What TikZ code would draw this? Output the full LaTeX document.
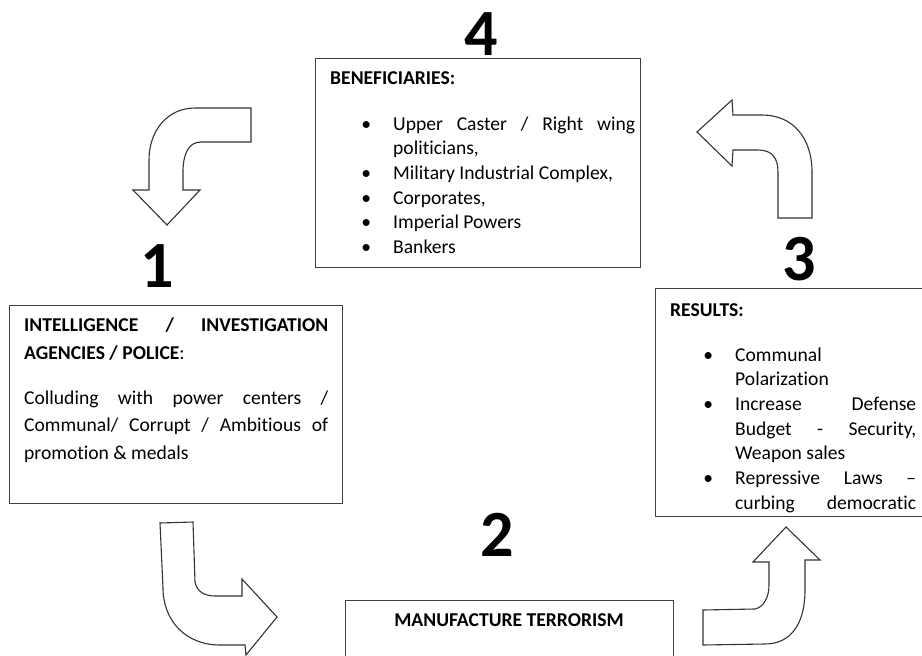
\documentclass[tikz,border=0pt]{standalone}
\usepackage{fontspec}
\setmainfont{Carlito}[Ligatures={NoCommon}]
\newcommand\bul{\leavevmode\llap{\textbullet\hspace{22pt}}}
\newcommand\jline[2]{\makebox[#1][s]{\spaceskip=0pt\xspaceskip=0pt #2}}
\begin{document}
\begin{tikzpicture}[x=1pt,y=-1pt,
  box/.style={draw=black!75, line width=1.2pt, inner sep=0pt, anchor=north west},
  barrow/.style={draw=black!80, line width=1.1pt, fill=white, line join=miter},
  num/.style={font=\fontsize{66}{66}\selectfont\bfseries, anchor=base, inner sep=0pt},
  body/.style={font=\fontsize{19.6}{24.7}\selectfont, inner sep=0pt, anchor=base west, align=flush left,
    execute at begin node={\spaceskip=0pt\xspaceskip=0pt}},
  head/.style={body, font=\fontsize{19.6}{24.7}\selectfont\bfseries},
]
\useasboundingbox (0,0) rectangle (922,656);
\clip (0,0) rectangle (922,656);

% boxes
\node[box, minimum width=325pt, minimum height=209pt] (b4) at (315,58) {};
\node[box, minimum width=333pt, minimum height=198pt] (b1) at (9,305) {};
\node[box, minimum width=280pt, minimum height=228pt] (b3) at (655,288) {};
\node[box, minimum width=328pt, minimum height=80pt] (b2) at (345,600) {};

% numbers
\node[num] (n4) at (481,55) {4};
\node[num] (n1) at (157,287) {1};
\node[num] (n3) at (799,280) {3};
\node[num] (n2) at (497,556) {2};

% box 4 text
\node[head] (t4h) at (330,84) {BENEFICIARIES:};
\node[body, text width=242pt] (t4) at (393,130) {\bul\jline{242pt}{Upper Caster / Right wing}\\ politicians,\\ \bul Military Industrial Complex,\\ \bul Corporates,\\ \bul Imperial Powers\\ \bul Bankers};

% box 1 text
\node[head, text width=304pt, font=\fontsize{19.6}{28}\selectfont\bfseries] (t1h) at (24,331) {\jline{304pt}{INTELLIGENCE / INVESTIGATION}\\ AGENCIES / POLICE\mdseries:};
\node[body, text width=304pt, font=\fontsize{19.6}{27.5}\selectfont] (t1) at (24,404) {\jline{304pt}{Colluding with power centers /}\\ \jline{304pt}{Communal/ Corrupt / Ambitious of}\\ promotion \& medals};

% box 3 text
\node[head] (t3h) at (670,316) {RESULTS:};
\begin{scope}
\clip (655,288) rectangle (922,515);
\node[body, text width=181pt] (t3) at (735,361) {\bul Communal\\ Polarization\\ \bul\jline{181pt}{Increase Defense}\\ \jline{181pt}{Budget - Security,}\\ Weapon sales\\ \bul\jline{181pt}{Repressive Laws –}\\ \jline{181pt}{curbing democratic}};
\end{scope}

% box 2 text
\node[head, anchor=base] (t2) at (509,626) {MANUFACTURE TERRORISM};

% block arrows
\draw[barrow] (251,108) -- (195,108) .. controls (168,108) and (149,130) .. (149,160) -- (149,190) -- (133,190) -- (167,225) -- (200,190) -- (183,190) -- (183,172) .. controls (183,155) and (188,142) .. (201,142) -- (251,142) -- cycle;
\draw[barrow] (160,523) -- (193,522) -- (195,582) .. controls (197,592) and (205,596) .. (215,596) -- (242,596) -- (242,579) -- (277,617) -- (246,655) -- (245,645) -- (220,645) .. controls (185,645) and (163,620) .. (163,588) -- cycle;
\draw[barrow] (703,610) -- (755,609) .. controls (764,607) and (769,597) .. (769,585) -- (769,562) -- (753,562) -- (786,527) -- (820,560) -- (805,560) -- (805,590) .. controls (805,625) and (790,644) .. (765,644) -- (703,645) -- cycle;
\draw[barrow] (778,218) -- (778,172) .. controls (778,158) and (772,150) .. (758,150) -- (733,150) -- (732,166) -- (697,132) -- (732,100) -- (733,115) -- (762,115) .. controls (793,115) and (812,138) .. (812,172) -- (812,218) -- cycle;
\end{tikzpicture}
\end{document}
